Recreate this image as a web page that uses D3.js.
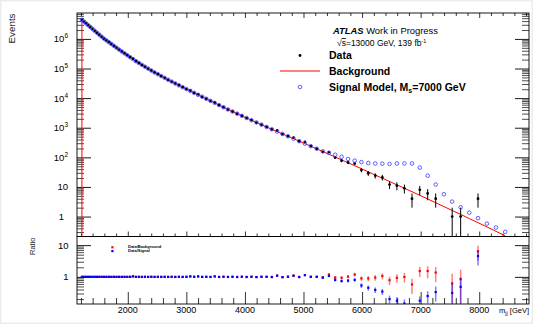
<!DOCTYPE html>
<html><head><meta charset="utf-8">
<script src="https://cdn.jsdelivr.net/npm/d3@7"></script>
<style>
body{margin:0;background:#fff}
svg{display:block}
text{font-family:"Liberation Sans",Arial,Helvetica,sans-serif}
</style>
</head><body>
<svg id="c" width="533" height="324"></svg>
<script>
// ---- data ----
const massBins = [1217,1251.5,1287,1323,1359.5,1397,1435,1473.5,1513,1553,1593.5,1635,1677,1719.5,1763,1807.5,1852.5,1898,1944.5,1992,2040.5,2089.5,2139,2189.5,2241,2293.5,2347,2401.5,2457,2513.5,2571,2629.5,2689,2749.5,2811,2873.5,2937,3001.5,3067,3133.5,3201,3270,3340.5,3412,3484.5,3558.5,3634,3710.5,3788,3867,3947.5,4029,4112,4196.5,4282.5,4370,4459,4549.5,4641.5,4735,4830,4926.5,5024.5,5124.5,5226,5329,5434,5541,5650,5761,5874,5989,6106,6225,6346,6469,6594.5,6722.5,6852.5,6985,7120,7257,7396.5,7538.5,7683,7830,7979.5,8131.5,8286,8443.5];

const background = [4416000,3855000,3357000,2917000,2529000,2183000,1879000,1618000,1387000,1186000,
1021000,889000,774000,674500,583400,504700,434500,376700,325800,280500,
241000,207000,177000,153500,133000,115100,99310,85510,73790,64270,
55720,48310,41690,36060,31330,27100,23440,20230,17460,15030,
12940,11090,9484,8072,6871,5821,4920,4140,3516,2985,
2523,2133,1795,1507,1262,1059,887.2,743.0,619.4,514.0,
426.6,352.4,290.4,238.2,193.6,157.4,127.1,102.3,82.04,65.46,
52.12,41.30,32.43,25.29,19.72,15.28,11.78,9.036,6.902,5.236,
3.926,2.931,2.173,1.603,1.178,0.857,0.622,0.447,0.317,0.224];

const dataCounts = [4417500,3853900,3358600,2915300,2530400,2181900,1880200,1617100,1388300,1185200,
1021900,888100,774800,673700,584100,504200,435000,376200,326300,280100,
241600,215300,176600,153900,132700,115400,99080,85790,73620,64430,
55580,48470,41520,36190,31240,27210,23370,20290,18070,15090,
13390,11060,9520,8031,7120,5790,4948,4117,3538,2962,
2544,2118,1812,1489,1270,1063,880,812,608,520,
466,349,331,240,195,152,151,98,77,67,
62,37,29,24,21,12,11,9,4,8,
6,4,0,1,1,0,4,0,0,0];

const signalExcess = [0,0,0,0,0,0,0,0,0,0,
0,0,0,0,0,0,0,0,0,0,
0,0,0,0,0,0,0,0,0,0,
0,0,0,0,0,0,0,0,0,0,
0,0,0,0,0,0,0,0,0,0,
0,0,0,0,0,0,0,0,0,0,
0,0,0.5,1,1.5,3,14,20,22,22.5,
25,27.7,31.6,36.7,41.3,44.7,50.2,53,55.1,39.8,
20.1,9.1,3.5,1.6,0.88,0.5,0.26,0.13,0.11,0.08];

const xMajorTicks = [2000,3000,4000,5000,6000,7000,8000];
const yMajorPowers = [0,1,2,3,4,5,6];
const ratioMajorTicks = [1,10];

// ---- layout ----
const X0=77, X1=529, YT=13, YB=236.5, RB=304;
const svg = d3.select("#c");
svg.append("rect").attr("x",0.75).attr("y",0.75).attr("width",531.5).attr("height",322.5)
   .attr("fill","#fff").attr("stroke","#ececec").attr("stroke-width",1.5);

const x = d3.scaleLinear().domain([1133,8850]).range([X0,X1]);
const y = d3.scaleLog().domain([0.212,7.5e6]).range([YB,YT]);
const yr = d3.scaleLog().domain([0.14,18.7]).range([RB,YB]);

const defs = svg.append("defs");
defs.append("clipPath").attr("id","cm").append("rect").attr("x",X0).attr("y",YT).attr("width",X1-X0).attr("height",YB-YT);
defs.append("clipPath").attr("id","cr").append("rect").attr("x",X0).attr("y",YB).attr("width",X1-X0).attr("height",RB-YB);

const pts = massBins.map((m,i)=>({m, b:background[i], d:dataCounts[i], s:background[i]+signalExcess[i]}));

// ---- axes / ticks ----
function ticks(axisFn, scale, vals, size, tx, ty, w){
  const g = svg.append("g").attr("transform",`translate(${tx},${ty})`)
    .call(axisFn(scale).tickValues(vals).tickSize(size).tickFormat(""));
  g.select(".domain").remove();
  g.selectAll("line").attr("stroke","#000").attr("stroke-width",w||0.8);
  return g;
}
const yMajor = yMajorPowers.map(p=>Math.pow(10,p));
const yMinor = [];
for(let n=-1;n<=6;n++) for(let k=2;k<=9;k++){const v=k*Math.pow(10,n); if(v>=0.212&&v<=7.5e6) yMinor.push(v);}
const xMinor = d3.range(1200,8850,200).filter(v=>v%1000!==0);
const rMinor = [0.2,0.3,0.4,0.5,0.6,0.7,0.8,0.9,2,3,4,5,6,7,8,9];

// main panel
ticks(d3.axisLeft, y, yMajor, -14, X0, 0, 0.9);
ticks(d3.axisLeft, y, yMinor, -7, X0, 0, 0.7);
ticks(d3.axisRight, y, yMajor, -14, X1, 0, 0.9);
ticks(d3.axisRight, y, yMinor, -7, X1, 0, 0.7);
ticks(d3.axisBottom, x, xMajorTicks, -5, 0, YB);
ticks(d3.axisBottom, x, xMinor, -3, 0, YB);
ticks(d3.axisTop, x, xMajorTicks, -5, 0, YT);
ticks(d3.axisTop, x, xMinor, -3, 0, YT);
// ratio panel
ticks(d3.axisLeft, yr, ratioMajorTicks, -14, X0, 0, 0.9);
ticks(d3.axisLeft, yr, rMinor, -7, X0, 0, 0.7);
ticks(d3.axisRight, yr, ratioMajorTicks, -14, X1, 0, 0.9);
ticks(d3.axisRight, yr, rMinor, -7, X1, 0, 0.7);
ticks(d3.axisBottom, x, xMajorTicks, -12, 0, RB);
ticks(d3.axisBottom, x, xMinor, -6, 0, RB);

// frames
svg.append("rect").attr("x",X0).attr("y",YT).attr("width",X1-X0).attr("height",YB-YT)
  .attr("fill","none").attr("stroke","#000").attr("stroke-width",0.9);
svg.append("rect").attr("x",X0).attr("y",YB).attr("width",X1-X0).attr("height",RB-YB)
  .attr("fill","none").attr("stroke","#000").attr("stroke-width",0.9);

// y labels main
yMajorPowers.forEach(p=>{
  const v=Math.pow(10,p);
  const t = svg.append("text").attr("y",y(v)+3.5).attr("text-anchor","end").attr("font-size",9.5).attr("fill","#000");
  if(p===0){ t.attr("x",64).text("1"); }
  else if(p===1){ t.attr("x",68).text("10"); }
  else { t.attr("x",68); t.append("tspan").text("10"); t.append("tspan").attr("dy",-4).attr("font-size",6.5).text(p); }
});
// ratio labels
ratioMajorTicks.forEach(v=>{
  svg.append("text").attr("x",68.5).attr("y",yr(v)+3.5).attr("text-anchor","end").attr("font-size",9.5).text(v);
});
// x labels
xMajorTicks.forEach(v=>{
  svg.append("text").attr("x",x(v)).attr("y",312.5).attr("text-anchor","middle").attr("font-size",9).text(v);
});
// axis titles
const xt = svg.append("text").attr("x",529).attr("y",313).attr("text-anchor","end").attr("font-size",7.5);
xt.append("tspan").text("m");
xt.append("tspan").attr("dy",1.8).attr("font-size",5.5).text("jj");
xt.append("tspan").attr("dy",-1.8).text(" [GeV]");
svg.append("text").attr("transform","translate(15,13.5) rotate(-90)").attr("text-anchor","end")
  .attr("font-size",9.8).attr("fill","#222").text("Events");
svg.append("text").attr("transform","translate(35,237.5) rotate(-90)").attr("text-anchor","end")
  .attr("font-size",7.5).attr("fill","#222").text("Ratio");

// ---- main plot marks ----
const gm = svg.append("g").attr("clip-path","url(#cm)");
const bkgLine = [{m:massBins[0], v:y.domain()[0]}].concat(pts.map(p=>({m:p.m, v:p.b})));
gm.append("path").datum(bkgLine)
  .attr("d", d3.line().x(p=>x(p.m)).y(p=>y(p.v)))
  .attr("fill","none").attr("stroke","#ff0000").attr("stroke-width",1);
const dpts = pts.filter(p=>p.d>0);
gm.selectAll("line.err").data(dpts).join("line").attr("class","err")
  .attr("x1",p=>x(p.m)).attr("x2",p=>x(p.m))
  .attr("y1",p=>y(Math.max(p.d-Math.sqrt(p.d),1e-3))).attr("y2",p=>y(p.d+Math.sqrt(p.d)))
  .attr("stroke","#000").attr("stroke-width",1);
gm.selectAll("circle.dat").data(dpts).join("circle").attr("class","dat")
  .attr("cx",p=>x(p.m)).attr("cy",p=>y(p.d)).attr("r",1.4).attr("fill","#000");
gm.selectAll("circle.sig").data(pts).join("circle").attr("class","sig")
  .attr("cx",p=>x(p.m)).attr("cy",p=>y(p.s)).attr("r",1.8)
  .attr("fill","none").attr("stroke","#3838ff").attr("stroke-width",0.8);

// ---- ratio marks ----
const gr = svg.append("g").attr("clip-path","url(#cr)");
function ratioSeries(den, color){
  const rp = pts.filter(p=>p.d>0).map(p=>({m:p.m, r:p.d/den(p), e:Math.sqrt(p.d)/den(p)}));
  gr.selectAll(null).data(rp).join("line")
    .attr("x1",p=>x(p.m)).attr("x2",p=>x(p.m))
    .attr("y1",p=>yr(Math.max(p.r-p.e,1e-3))).attr("y2",p=>yr(p.r+p.e))
    .attr("stroke",color).attr("stroke-opacity",0.5).attr("stroke-width",1.5);
  gr.selectAll(null).data(rp).join("rect")
    .attr("x",p=>x(p.m)-1.1).attr("y",p=>yr(p.r)-1.1).attr("width",2.2).attr("height",2.2)
    .attr("fill",color);
}
ratioSeries(p=>p.b, "#ff0000");
ratioSeries(p=>p.s, "#0000ff");

// ---- legend ----
const t1 = svg.append("text").attr("x",333).attr("y",33.5).attr("font-size",9.4);
t1.append("tspan").attr("font-weight","bold").attr("font-style","italic").text("ATLAS");
t1.append("tspan").text(" Work in Progress");
const t2 = svg.append("text").attr("x",337).attr("y",46).attr("font-size",8.5);
t2.append("tspan").text("\u221A");
t2.append("tspan").attr("text-decoration","overline").text("s");
t2.append("tspan").text("=13000 GeV, 139 fb");
t2.append("tspan").attr("dy",-3.5).attr("font-size",5.5).text("-1");

svg.append("circle").attr("cx",300).attr("cy",55.5).attr("r",1.4).attr("fill","#000");
svg.append("text").attr("x",329).attr("y",59.3).attr("font-size",10.5).attr("font-weight","bold").text("Data");
svg.append("line").attr("x1",280).attr("x2",320).attr("y1",71).attr("y2",71).attr("stroke","#ff0000").attr("stroke-width",1);
svg.append("text").attr("x",329).attr("y",75).attr("font-size",10.5).attr("font-weight","bold").text("Background");
svg.append("circle").attr("cx",300).attr("cy",87).attr("r",1.8).attr("fill","none").attr("stroke","#3838ff").attr("stroke-width",0.8);
const t3 = svg.append("text").attr("x",329).attr("y",90.5).attr("font-size",10.5).attr("font-weight","bold");
t3.append("tspan").text("Signal Model, M");
t3.append("tspan").attr("dy",2.5).attr("font-size",7).text("s");
t3.append("tspan").attr("dy",-2.5).text("=7000 GeV");

// ratio legend
svg.append("rect").attr("x",111.3).attr("y",246.2).attr("width",2.2).attr("height",2.2).attr("fill","#ff0000");
svg.append("text").attr("x",128).attr("y",248.4).attr("font-size",4).attr("font-weight","bold").text("Data/Background");
svg.append("rect").attr("x",111.3).attr("y",250).attr("width",2.2).attr("height",2.2).attr("fill","#0000ff");
svg.append("text").attr("x",128).attr("y",252).attr("font-size",4).attr("font-weight","bold").text("Data/Signal");
</script>
</body></html>
